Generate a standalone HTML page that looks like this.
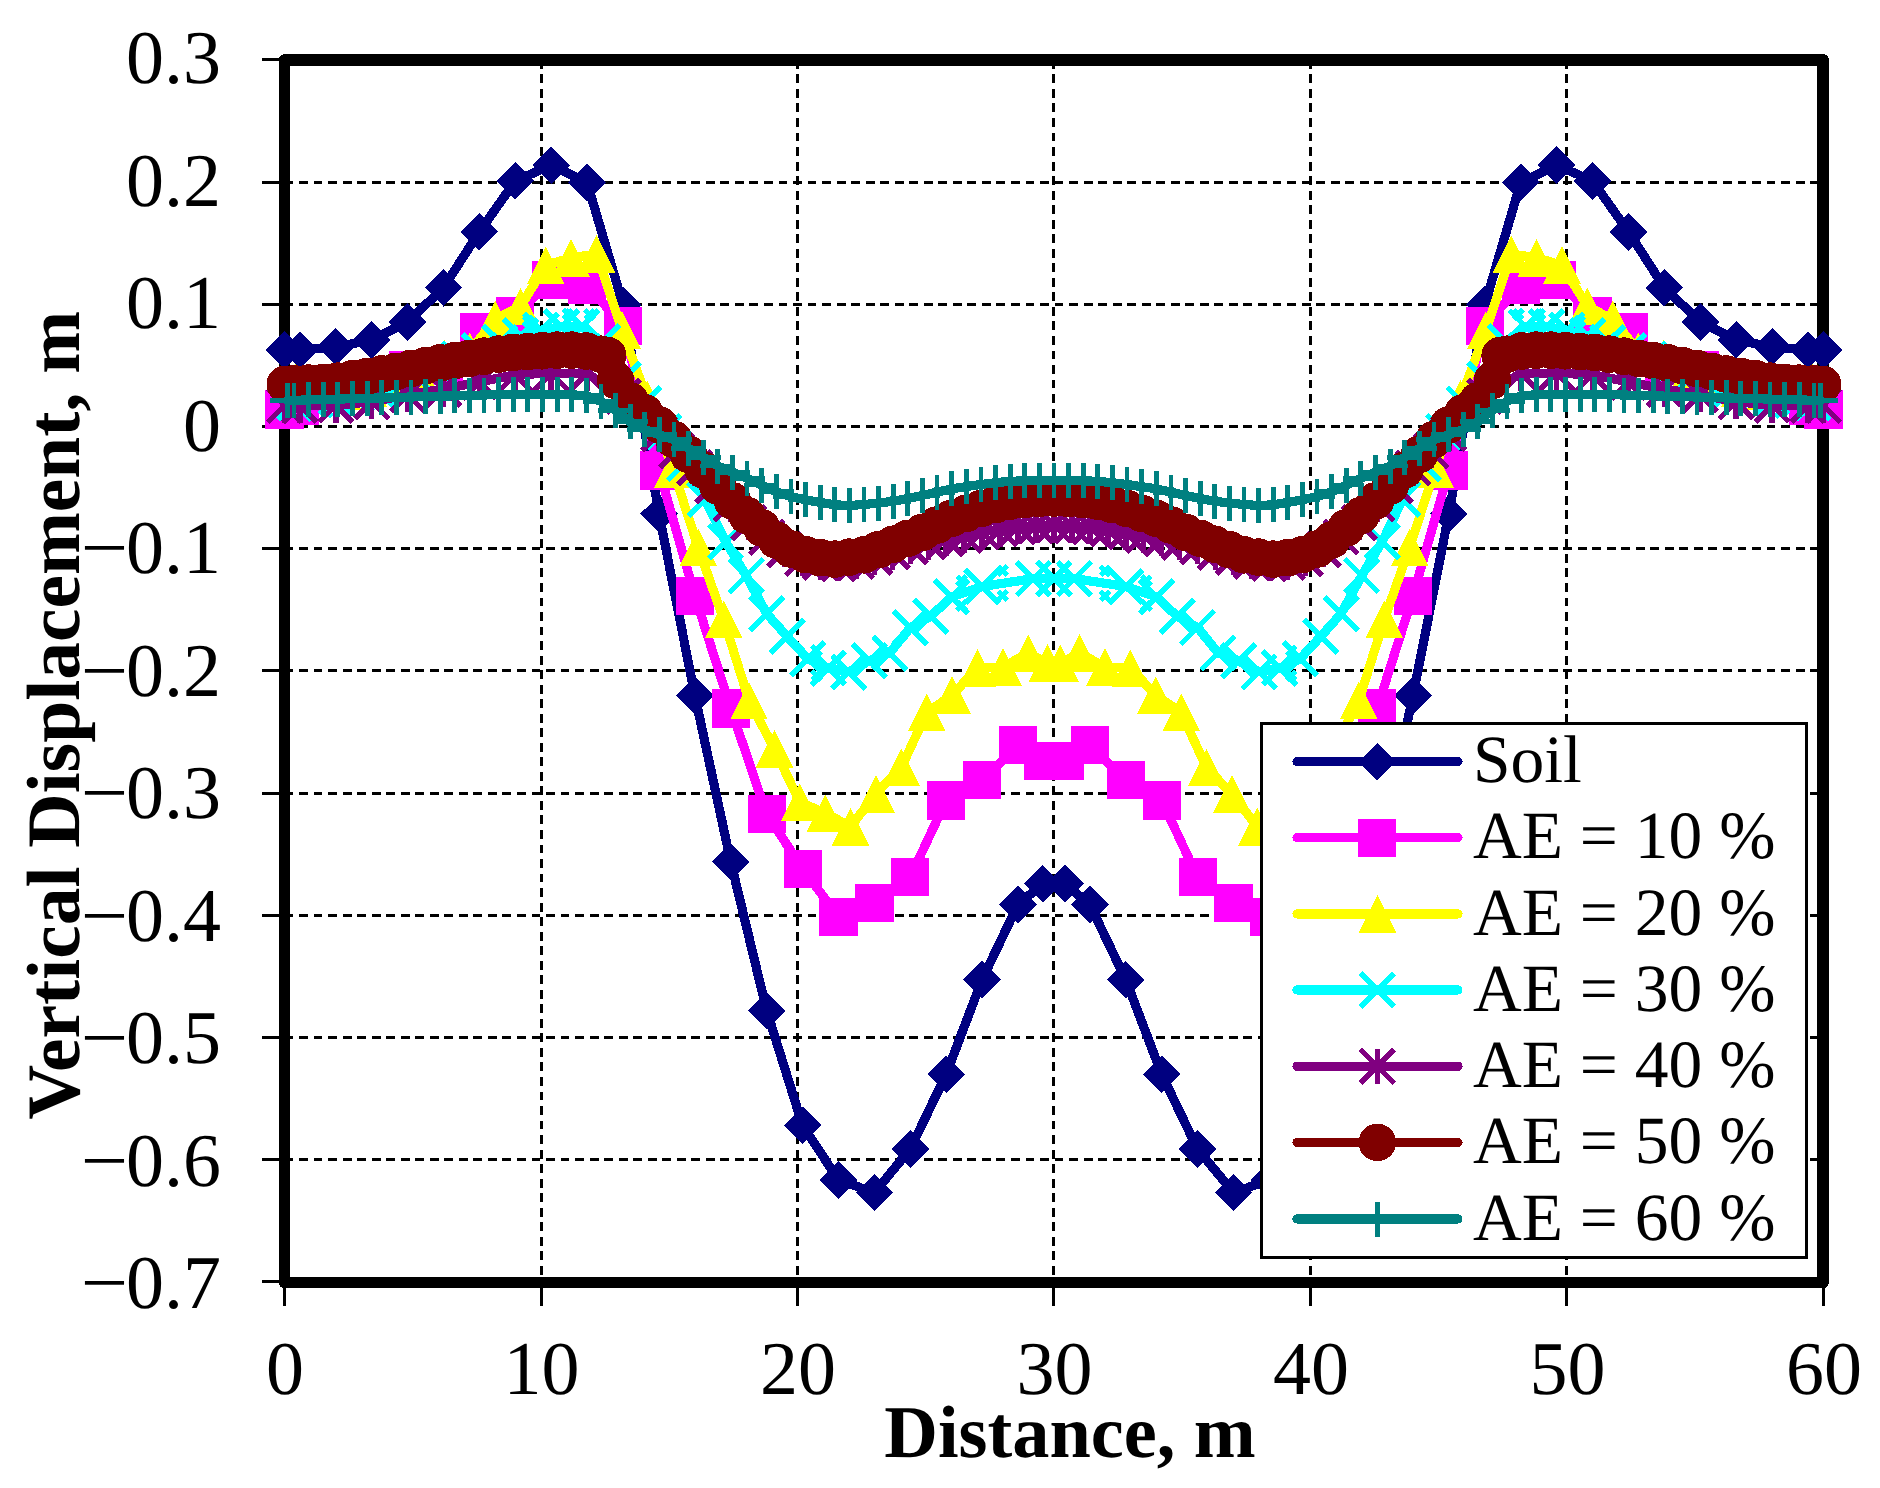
<!DOCTYPE html>
<html lang="en"><head><meta charset="utf-8"><title>Vertical Displacement vs Distance</title>
<style>html,body{margin:0;padding:0;background:#fff}svg{display:block}text{font-family:"Liberation Serif",serif;fill:#000}.t{font-size:76px}.b{font-weight:bold}.l{font-size:67.5px}</style></head><body>
<svg width="1880" height="1488" viewBox="0 0 1880 1488" shape-rendering="crispEdges" text-rendering="geometricPrecision">
<rect width="1880" height="1488" fill="#fff"/>
<path d="M541 59.9V1281.9M797.5 59.9V1281.9M1053.9 59.9V1281.9M1310.4 59.9V1281.9M1566.9 59.9V1281.9M284.5 182.1H1823.4M284.5 304.3H1823.4M284.5 426.5H1823.4M284.5 548.7H1823.4M284.5 670.9H1823.4M284.5 793.1H1823.4M284.5 915.3H1823.4M284.5 1037.5H1823.4M284.5 1159.7H1823.4" stroke="#000" stroke-width="3" stroke-dasharray="8.9 5.63" fill="none"/>
<path d="M284.5 1281.9V1306M541 1281.9V1306M797.5 1281.9V1306M1053.9 1281.9V1306M1310.4 1281.9V1306M1566.9 1281.9V1306M1823.4 1281.9V1306M262 59.9H284.5M262 182.1H284.5M262 304.3H284.5M262 426.5H284.5M262 548.7H284.5M262 670.9H284.5M262 793.1H284.5M262 915.3H284.5M262 1037.5H284.5M262 1159.7H284.5M262 1281.9H284.5" stroke="#000" stroke-width="3" fill="none"/>
<rect x="284.6" y="59.9" width="1538.5" height="1222.6" fill="none" stroke="#000" stroke-width="11.5" stroke-linejoin="round"/>
<g stroke-linejoin="round" stroke-linecap="round">
<g><path d="M284.5 350L299.9 350L335.8 346.9L371.7 340L407.6 322L443.5 287.7L479.4 231.8L515.3 180.9L551.2 165.2L587.1 182.5L623.1 305L659 513.8L694.9 695.7L730.8 862L766.7 1010.7L802.6 1125.4L838.5 1180L874.4 1192.6L910.3 1149.1L946.2 1074.3L982.1 979.7L1018 904.5L1042.9 883.8L1065 883.8L1089.8 904.5L1125.8 979.7L1161.7 1074.3L1197.6 1149.1L1233.5 1192.6L1269.4 1180L1305.3 1125.4L1341.2 1010.7L1377.1 862L1413 695.7L1448.9 513.8L1484.8 305L1520.7 182.5L1556.6 165.2L1592.5 180.9L1628.5 231.8L1664.4 287.7L1700.3 322L1736.2 340L1772.1 346.9L1808 350L1823.4 350" stroke="#000080" stroke-width="9.2" fill="none"/>
<g stroke-linecap="butt"><path d="M284.5 331.2L303.3 350L284.5 368.8L265.7 350Z" fill="#000080"/><path d="M299.9 331.2L318.7 350L299.9 368.8L281.1 350Z" fill="#000080"/><path d="M335.8 328.1L354.6 346.9L335.8 365.7L317 346.9Z" fill="#000080"/><path d="M371.7 321.2L390.5 340L371.7 358.8L352.9 340Z" fill="#000080"/><path d="M407.6 303.2L426.4 322L407.6 340.8L388.8 322Z" fill="#000080"/><path d="M443.5 268.9L462.3 287.7L443.5 306.5L424.7 287.7Z" fill="#000080"/><path d="M479.4 213L498.2 231.8L479.4 250.6L460.6 231.8Z" fill="#000080"/><path d="M515.3 162.1L534.1 180.9L515.3 199.7L496.5 180.9Z" fill="#000080"/><path d="M551.2 146.4L570 165.2L551.2 184L532.4 165.2Z" fill="#000080"/><path d="M587.1 163.7L605.9 182.5L587.1 201.3L568.3 182.5Z" fill="#000080"/><path d="M623.1 286.2L641.9 305L623.1 323.8L604.3 305Z" fill="#000080"/><path d="M659 495L677.8 513.8L659 532.6L640.2 513.8Z" fill="#000080"/><path d="M694.9 676.9L713.7 695.7L694.9 714.5L676.1 695.7Z" fill="#000080"/><path d="M730.8 843.2L749.6 862L730.8 880.8L712 862Z" fill="#000080"/><path d="M766.7 991.9L785.5 1010.7L766.7 1029.5L747.9 1010.7Z" fill="#000080"/><path d="M802.6 1106.6L821.4 1125.4L802.6 1144.2L783.8 1125.4Z" fill="#000080"/><path d="M838.5 1161.2L857.3 1180L838.5 1198.8L819.7 1180Z" fill="#000080"/><path d="M874.4 1173.8L893.2 1192.6L874.4 1211.4L855.6 1192.6Z" fill="#000080"/><path d="M910.3 1130.3L929.1 1149.1L910.3 1167.9L891.5 1149.1Z" fill="#000080"/><path d="M946.2 1055.5L965 1074.3L946.2 1093.1L927.4 1074.3Z" fill="#000080"/><path d="M982.1 960.9L1000.9 979.7L982.1 998.5L963.3 979.7Z" fill="#000080"/><path d="M1018 885.7L1036.8 904.5L1018 923.3L999.2 904.5Z" fill="#000080"/><path d="M1042.9 865L1061.7 883.8L1042.9 902.6L1024.1 883.8Z" fill="#000080"/><path d="M1065 865L1083.8 883.8L1065 902.6L1046.2 883.8Z" fill="#000080"/><path d="M1089.8 885.7L1108.6 904.5L1089.8 923.3L1071 904.5Z" fill="#000080"/><path d="M1125.8 960.9L1144.6 979.7L1125.8 998.5L1107 979.7Z" fill="#000080"/><path d="M1161.7 1055.5L1180.5 1074.3L1161.7 1093.1L1142.9 1074.3Z" fill="#000080"/><path d="M1197.6 1130.3L1216.4 1149.1L1197.6 1167.9L1178.8 1149.1Z" fill="#000080"/><path d="M1233.5 1173.8L1252.3 1192.6L1233.5 1211.4L1214.7 1192.6Z" fill="#000080"/><path d="M1269.4 1161.2L1288.2 1180L1269.4 1198.8L1250.6 1180Z" fill="#000080"/><path d="M1305.3 1106.6L1324.1 1125.4L1305.3 1144.2L1286.5 1125.4Z" fill="#000080"/><path d="M1341.2 991.9L1360 1010.7L1341.2 1029.5L1322.4 1010.7Z" fill="#000080"/><path d="M1377.1 843.2L1395.9 862L1377.1 880.8L1358.3 862Z" fill="#000080"/><path d="M1413 676.9L1431.8 695.7L1413 714.5L1394.2 695.7Z" fill="#000080"/><path d="M1448.9 495L1467.7 513.8L1448.9 532.6L1430.1 513.8Z" fill="#000080"/><path d="M1484.8 286.2L1503.6 305L1484.8 323.8L1466 305Z" fill="#000080"/><path d="M1520.7 163.7L1539.5 182.5L1520.7 201.3L1501.9 182.5Z" fill="#000080"/><path d="M1556.6 146.4L1575.4 165.2L1556.6 184L1537.8 165.2Z" fill="#000080"/><path d="M1592.5 162.1L1611.3 180.9L1592.5 199.7L1573.7 180.9Z" fill="#000080"/><path d="M1628.5 213L1647.3 231.8L1628.5 250.6L1609.7 231.8Z" fill="#000080"/><path d="M1664.4 268.9L1683.2 287.7L1664.4 306.5L1645.6 287.7Z" fill="#000080"/><path d="M1700.3 303.2L1719.1 322L1700.3 340.8L1681.5 322Z" fill="#000080"/><path d="M1736.2 321.2L1755 340L1736.2 358.8L1717.4 340Z" fill="#000080"/><path d="M1772.1 328.1L1790.9 346.9L1772.1 365.7L1753.3 346.9Z" fill="#000080"/><path d="M1808 331.2L1826.8 350L1808 368.8L1789.2 350Z" fill="#000080"/><path d="M1823.4 331.2L1842.2 350L1823.4 368.8L1804.6 350Z" fill="#000080"/></g></g>
<g><path d="M284.5 409.4L299.9 405.7L335.8 392.3L371.7 380.1L407.6 370.3L443.5 366L479.4 331.8L515.3 316L551.2 279.9L587.1 284.7L623.1 326.3L659 470.4L694.9 596L730.8 708.5L766.7 814.2L802.6 868.6L838.5 917L874.4 903.1L910.3 877.1L946.2 800.4L982.1 780.3L1018 745.2L1042.9 761L1065 761L1089.8 745.2L1125.8 780.3L1161.7 800.4L1197.6 877.1L1233.5 903.1L1269.4 917L1305.3 868.6L1341.2 814.2L1377.1 708.5L1413 596L1448.9 470.4L1484.8 326.3L1520.7 284.7L1556.6 279.9L1592.5 316L1628.5 331.8L1664.4 366L1700.3 370.3L1736.2 380.1L1772.1 392.3L1808 405.7L1823.4 409.4" stroke="#ff00ff" stroke-width="9.2" fill="none"/>
<g stroke-linecap="butt"><rect x="265.4" y="390.3" width="38.2" height="38.2" fill="#ff00ff"/><rect x="280.8" y="386.6" width="38.2" height="38.2" fill="#ff00ff"/><rect x="316.7" y="373.2" width="38.2" height="38.2" fill="#ff00ff"/><rect x="352.6" y="361" width="38.2" height="38.2" fill="#ff00ff"/><rect x="388.5" y="351.2" width="38.2" height="38.2" fill="#ff00ff"/><rect x="424.4" y="346.9" width="38.2" height="38.2" fill="#ff00ff"/><rect x="460.3" y="312.7" width="38.2" height="38.2" fill="#ff00ff"/><rect x="496.2" y="296.9" width="38.2" height="38.2" fill="#ff00ff"/><rect x="532.1" y="260.8" width="38.2" height="38.2" fill="#ff00ff"/><rect x="568" y="265.6" width="38.2" height="38.2" fill="#ff00ff"/><rect x="604" y="307.2" width="38.2" height="38.2" fill="#ff00ff"/><rect x="639.9" y="451.3" width="38.2" height="38.2" fill="#ff00ff"/><rect x="675.8" y="576.9" width="38.2" height="38.2" fill="#ff00ff"/><rect x="711.7" y="689.4" width="38.2" height="38.2" fill="#ff00ff"/><rect x="747.6" y="795.1" width="38.2" height="38.2" fill="#ff00ff"/><rect x="783.5" y="849.5" width="38.2" height="38.2" fill="#ff00ff"/><rect x="819.4" y="897.9" width="38.2" height="38.2" fill="#ff00ff"/><rect x="855.3" y="884" width="38.2" height="38.2" fill="#ff00ff"/><rect x="891.2" y="858" width="38.2" height="38.2" fill="#ff00ff"/><rect x="927.1" y="781.3" width="38.2" height="38.2" fill="#ff00ff"/><rect x="963" y="761.2" width="38.2" height="38.2" fill="#ff00ff"/><rect x="998.9" y="726.1" width="38.2" height="38.2" fill="#ff00ff"/><rect x="1023.8" y="741.9" width="38.2" height="38.2" fill="#ff00ff"/><rect x="1045.9" y="741.9" width="38.2" height="38.2" fill="#ff00ff"/><rect x="1070.7" y="726.1" width="38.2" height="38.2" fill="#ff00ff"/><rect x="1106.7" y="761.2" width="38.2" height="38.2" fill="#ff00ff"/><rect x="1142.6" y="781.3" width="38.2" height="38.2" fill="#ff00ff"/><rect x="1178.5" y="858" width="38.2" height="38.2" fill="#ff00ff"/><rect x="1214.4" y="884" width="38.2" height="38.2" fill="#ff00ff"/><rect x="1250.3" y="897.9" width="38.2" height="38.2" fill="#ff00ff"/><rect x="1286.2" y="849.5" width="38.2" height="38.2" fill="#ff00ff"/><rect x="1322.1" y="795.1" width="38.2" height="38.2" fill="#ff00ff"/><rect x="1358" y="689.4" width="38.2" height="38.2" fill="#ff00ff"/><rect x="1393.9" y="576.9" width="38.2" height="38.2" fill="#ff00ff"/><rect x="1429.8" y="451.3" width="38.2" height="38.2" fill="#ff00ff"/><rect x="1465.7" y="307.2" width="38.2" height="38.2" fill="#ff00ff"/><rect x="1501.6" y="265.6" width="38.2" height="38.2" fill="#ff00ff"/><rect x="1537.5" y="260.8" width="38.2" height="38.2" fill="#ff00ff"/><rect x="1573.4" y="296.9" width="38.2" height="38.2" fill="#ff00ff"/><rect x="1609.4" y="312.7" width="38.2" height="38.2" fill="#ff00ff"/><rect x="1645.3" y="346.9" width="38.2" height="38.2" fill="#ff00ff"/><rect x="1681.2" y="351.2" width="38.2" height="38.2" fill="#ff00ff"/><rect x="1717.1" y="361" width="38.2" height="38.2" fill="#ff00ff"/><rect x="1753" y="373.2" width="38.2" height="38.2" fill="#ff00ff"/><rect x="1788.9" y="386.6" width="38.2" height="38.2" fill="#ff00ff"/><rect x="1804.3" y="390.3" width="38.2" height="38.2" fill="#ff00ff"/></g></g>
<g><path d="M295.5 382.5L317.3 391.1L342.7 391.2L368.1 387.9L393.5 382.8L418.9 373.3L444.3 358.8L469.7 351.2L495.1 319.5L520.5 306.4L545.9 265.2L571.2 257.8L596.6 254L622 330.3L647.4 399.1L672.8 468.8L698.2 547.5L723.6 619.4L749 700.5L774.4 748.9L799.8 802.2L825.2 813L850.6 826.7L875.9 793.8L901.3 767.6L926.7 712.6L952.1 695L977.5 668.1L1002.9 666.9L1028.3 653.1L1047.5 663.2L1060.4 663.2L1079.6 653.1L1105 666.9L1130.4 668.1L1155.8 695L1181.2 712.6L1206.5 767.6L1231.9 793.8L1257.3 826.7L1282.7 813L1308.1 802.2L1333.5 748.9L1358.9 700.5L1384.3 619.4L1409.7 547.5L1435.1 468.8L1460.5 399.1L1485.9 330.3L1511.2 254L1536.6 257.8L1562 265.2L1587.4 306.4L1612.8 319.5L1638.2 351.2L1663.6 358.8L1689 373.3L1714.4 382.8L1739.8 387.9L1765.2 391.2L1790.6 391.1L1812.4 382.5" stroke="#ffff00" stroke-width="9.2" fill="none"/>
<g stroke-linecap="butt"><path d="M295.5 363.7L314.3 401.3L276.7 401.3Z" fill="#ffff00"/><path d="M317.3 372.3L336.1 409.9L298.5 409.9Z" fill="#ffff00"/><path d="M342.7 372.4L361.5 410L323.9 410Z" fill="#ffff00"/><path d="M368.1 369.1L386.9 406.7L349.3 406.7Z" fill="#ffff00"/><path d="M393.5 364L412.3 401.6L374.7 401.6Z" fill="#ffff00"/><path d="M418.9 354.5L437.7 392.1L400.1 392.1Z" fill="#ffff00"/><path d="M444.3 340L463.1 377.6L425.5 377.6Z" fill="#ffff00"/><path d="M469.7 332.4L488.5 370L450.9 370Z" fill="#ffff00"/><path d="M495.1 300.7L513.9 338.3L476.3 338.3Z" fill="#ffff00"/><path d="M520.5 287.6L539.3 325.2L501.7 325.2Z" fill="#ffff00"/><path d="M545.9 246.4L564.7 284L527.1 284Z" fill="#ffff00"/><path d="M571.2 239L590 276.6L552.4 276.6Z" fill="#ffff00"/><path d="M596.6 235.2L615.4 272.8L577.8 272.8Z" fill="#ffff00"/><path d="M622 311.5L640.8 349.1L603.2 349.1Z" fill="#ffff00"/><path d="M647.4 380.3L666.2 417.9L628.6 417.9Z" fill="#ffff00"/><path d="M672.8 450L691.6 487.6L654 487.6Z" fill="#ffff00"/><path d="M698.2 528.7L717 566.3L679.4 566.3Z" fill="#ffff00"/><path d="M723.6 600.6L742.4 638.2L704.8 638.2Z" fill="#ffff00"/><path d="M749 681.7L767.8 719.3L730.2 719.3Z" fill="#ffff00"/><path d="M774.4 730.1L793.2 767.7L755.6 767.7Z" fill="#ffff00"/><path d="M799.8 783.4L818.6 821L781 821Z" fill="#ffff00"/><path d="M825.2 794.2L844 831.8L806.4 831.8Z" fill="#ffff00"/><path d="M850.6 807.9L869.4 845.5L831.8 845.5Z" fill="#ffff00"/><path d="M875.9 775L894.7 812.6L857.1 812.6Z" fill="#ffff00"/><path d="M901.3 748.8L920.1 786.4L882.5 786.4Z" fill="#ffff00"/><path d="M926.7 693.8L945.5 731.4L907.9 731.4Z" fill="#ffff00"/><path d="M952.1 676.2L970.9 713.8L933.3 713.8Z" fill="#ffff00"/><path d="M977.5 649.3L996.3 686.9L958.7 686.9Z" fill="#ffff00"/><path d="M1002.9 648.1L1021.7 685.7L984.1 685.7Z" fill="#ffff00"/><path d="M1028.3 634.3L1047.1 671.9L1009.5 671.9Z" fill="#ffff00"/><path d="M1047.5 644.4L1066.3 682L1028.7 682Z" fill="#ffff00"/><path d="M1060.4 644.4L1079.2 682L1041.6 682Z" fill="#ffff00"/><path d="M1079.6 634.3L1098.4 671.9L1060.8 671.9Z" fill="#ffff00"/><path d="M1105 648.1L1123.8 685.7L1086.2 685.7Z" fill="#ffff00"/><path d="M1130.4 649.3L1149.2 686.9L1111.6 686.9Z" fill="#ffff00"/><path d="M1155.8 676.2L1174.6 713.8L1137 713.8Z" fill="#ffff00"/><path d="M1181.2 693.8L1200 731.4L1162.4 731.4Z" fill="#ffff00"/><path d="M1206.5 748.8L1225.3 786.4L1187.7 786.4Z" fill="#ffff00"/><path d="M1231.9 775L1250.7 812.6L1213.1 812.6Z" fill="#ffff00"/><path d="M1257.3 807.9L1276.1 845.5L1238.5 845.5Z" fill="#ffff00"/><path d="M1282.7 794.2L1301.5 831.8L1263.9 831.8Z" fill="#ffff00"/><path d="M1308.1 783.4L1326.9 821L1289.3 821Z" fill="#ffff00"/><path d="M1333.5 730.1L1352.3 767.7L1314.7 767.7Z" fill="#ffff00"/><path d="M1358.9 681.7L1377.7 719.3L1340.1 719.3Z" fill="#ffff00"/><path d="M1384.3 600.6L1403.1 638.2L1365.5 638.2Z" fill="#ffff00"/><path d="M1409.7 528.7L1428.5 566.3L1390.9 566.3Z" fill="#ffff00"/><path d="M1435.1 450L1453.9 487.6L1416.3 487.6Z" fill="#ffff00"/><path d="M1460.5 380.3L1479.3 417.9L1441.7 417.9Z" fill="#ffff00"/><path d="M1485.9 311.5L1504.7 349.1L1467.1 349.1Z" fill="#ffff00"/><path d="M1511.2 235.2L1530 272.8L1492.4 272.8Z" fill="#ffff00"/><path d="M1536.6 239L1555.4 276.6L1517.8 276.6Z" fill="#ffff00"/><path d="M1562 246.4L1580.8 284L1543.2 284Z" fill="#ffff00"/><path d="M1587.4 287.6L1606.2 325.2L1568.6 325.2Z" fill="#ffff00"/><path d="M1612.8 300.7L1631.6 338.3L1594 338.3Z" fill="#ffff00"/><path d="M1638.2 332.4L1657 370L1619.4 370Z" fill="#ffff00"/><path d="M1663.6 340L1682.4 377.6L1644.8 377.6Z" fill="#ffff00"/><path d="M1689 354.5L1707.8 392.1L1670.2 392.1Z" fill="#ffff00"/><path d="M1714.4 364L1733.2 401.6L1695.6 401.6Z" fill="#ffff00"/><path d="M1739.8 369.1L1758.6 406.7L1721 406.7Z" fill="#ffff00"/><path d="M1765.2 372.4L1784 410L1746.4 410Z" fill="#ffff00"/><path d="M1790.6 372.3L1809.4 409.9L1771.8 409.9Z" fill="#ffff00"/><path d="M1812.4 363.7L1831.2 401.3L1793.6 401.3Z" fill="#ffff00"/></g></g>
<g><path d="M294.8 403L315.3 400.1L335.8 397.2L356.3 394.2L376.8 389.5L397.4 384.1L417.9 377.8L438.4 368.7L458.9 359.6L479.4 351L499.9 342.7L520.5 335.8L541 330.2L561.5 326.8L582 326.8L602.5 342L623.1 379.1L643.6 404.2L664.1 431.8L684.6 463.5L705.1 499.3L725.6 541.6L746.2 575.7L766.7 613.6L787.2 636.5L807.7 658.7L828.2 668L848.8 671.9L869.3 660.8L889.8 652.9L910.3 627.5L930.8 616.3L951.3 596.9L982.1 586.5L1033.4 578.6L1053.9 578.6L1074.5 578.6L1125.8 586.5L1156.5 596.9L1177.1 616.3L1197.6 627.5L1218.1 652.9L1238.6 660.8L1259.1 671.9L1279.6 668L1300.2 658.7L1320.7 636.5L1341.2 613.6L1361.7 575.7L1382.2 541.6L1402.8 499.3L1423.3 463.5L1443.8 431.8L1464.3 404.2L1484.8 379.1L1505.3 342L1525.9 326.8L1546.4 326.8L1566.9 330.2L1587.4 335.8L1607.9 342.7L1628.5 351L1649 359.6L1669.5 368.7L1690 377.8L1710.5 384.1L1731 389.5L1751.6 394.2L1772.1 397.2L1792.6 400.1L1813.1 403" stroke="#00ffff" stroke-width="9.2" fill="none"/>
<g stroke-linecap="butt"><path d="M278 386.2L311.6 419.8M278 419.8L311.6 386.2" stroke="#00ffff" stroke-width="5.5" fill="none"/><path d="M298.5 383.3L332.1 416.9M298.5 416.9L332.1 383.3" stroke="#00ffff" stroke-width="5.5" fill="none"/><path d="M319 380.4L352.6 414M319 414L352.6 380.4" stroke="#00ffff" stroke-width="5.5" fill="none"/><path d="M339.5 377.4L373.1 411M339.5 411L373.1 377.4" stroke="#00ffff" stroke-width="5.5" fill="none"/><path d="M360 372.7L393.6 406.3M360 406.3L393.6 372.7" stroke="#00ffff" stroke-width="5.5" fill="none"/><path d="M380.6 367.3L414.2 400.9M380.6 400.9L414.2 367.3" stroke="#00ffff" stroke-width="5.5" fill="none"/><path d="M401.1 361L434.7 394.6M401.1 394.6L434.7 361" stroke="#00ffff" stroke-width="5.5" fill="none"/><path d="M421.6 351.9L455.2 385.5M421.6 385.5L455.2 351.9" stroke="#00ffff" stroke-width="5.5" fill="none"/><path d="M442.1 342.8L475.7 376.4M442.1 376.4L475.7 342.8" stroke="#00ffff" stroke-width="5.5" fill="none"/><path d="M462.6 334.2L496.2 367.8M462.6 367.8L496.2 334.2" stroke="#00ffff" stroke-width="5.5" fill="none"/><path d="M483.1 325.9L516.7 359.5M483.1 359.5L516.7 325.9" stroke="#00ffff" stroke-width="5.5" fill="none"/><path d="M503.7 319L537.3 352.6M503.7 352.6L537.3 319" stroke="#00ffff" stroke-width="5.5" fill="none"/><path d="M524.2 313.4L557.8 347M524.2 347L557.8 313.4" stroke="#00ffff" stroke-width="5.5" fill="none"/><path d="M544.7 310L578.3 343.6M544.7 343.6L578.3 310" stroke="#00ffff" stroke-width="5.5" fill="none"/><path d="M565.2 310L598.8 343.6M565.2 343.6L598.8 310" stroke="#00ffff" stroke-width="5.5" fill="none"/><path d="M585.7 325.2L619.3 358.8M585.7 358.8L619.3 325.2" stroke="#00ffff" stroke-width="5.5" fill="none"/><path d="M606.3 362.3L639.9 395.9M606.3 395.9L639.9 362.3" stroke="#00ffff" stroke-width="5.5" fill="none"/><path d="M626.8 387.4L660.4 421M626.8 421L660.4 387.4" stroke="#00ffff" stroke-width="5.5" fill="none"/><path d="M647.3 415L680.9 448.6M647.3 448.6L680.9 415" stroke="#00ffff" stroke-width="5.5" fill="none"/><path d="M667.8 446.7L701.4 480.3M667.8 480.3L701.4 446.7" stroke="#00ffff" stroke-width="5.5" fill="none"/><path d="M688.3 482.5L721.9 516.1M688.3 516.1L721.9 482.5" stroke="#00ffff" stroke-width="5.5" fill="none"/><path d="M708.8 524.8L742.4 558.4M708.8 558.4L742.4 524.8" stroke="#00ffff" stroke-width="5.5" fill="none"/><path d="M729.4 558.9L763 592.5M729.4 592.5L763 558.9" stroke="#00ffff" stroke-width="5.5" fill="none"/><path d="M749.9 596.8L783.5 630.4M749.9 630.4L783.5 596.8" stroke="#00ffff" stroke-width="5.5" fill="none"/><path d="M770.4 619.7L804 653.3M770.4 653.3L804 619.7" stroke="#00ffff" stroke-width="5.5" fill="none"/><path d="M790.9 641.9L824.5 675.5M790.9 675.5L824.5 641.9" stroke="#00ffff" stroke-width="5.5" fill="none"/><path d="M811.4 651.2L845 684.8M811.4 684.8L845 651.2" stroke="#00ffff" stroke-width="5.5" fill="none"/><path d="M832 655.1L865.6 688.7M832 688.7L865.6 655.1" stroke="#00ffff" stroke-width="5.5" fill="none"/><path d="M852.5 644L886.1 677.6M852.5 677.6L886.1 644" stroke="#00ffff" stroke-width="5.5" fill="none"/><path d="M873 636.1L906.6 669.7M873 669.7L906.6 636.1" stroke="#00ffff" stroke-width="5.5" fill="none"/><path d="M893.5 610.7L927.1 644.3M893.5 644.3L927.1 610.7" stroke="#00ffff" stroke-width="5.5" fill="none"/><path d="M914 599.5L947.6 633.1M914 633.1L947.6 599.5" stroke="#00ffff" stroke-width="5.5" fill="none"/><path d="M934.5 580.1L968.1 613.7M934.5 613.7L968.1 580.1" stroke="#00ffff" stroke-width="5.5" fill="none"/><path d="M965.3 569.7L998.9 603.3M965.3 603.3L998.9 569.7" stroke="#00ffff" stroke-width="5.5" fill="none"/><path d="M1016.6 561.8L1050.2 595.4M1016.6 595.4L1050.2 561.8" stroke="#00ffff" stroke-width="5.5" fill="none"/><path d="M1037.1 561.8L1070.7 595.4M1037.1 595.4L1070.7 561.8" stroke="#00ffff" stroke-width="5.5" fill="none"/><path d="M1057.7 561.8L1091.3 595.4M1057.7 595.4L1091.3 561.8" stroke="#00ffff" stroke-width="5.5" fill="none"/><path d="M1109 569.7L1142.6 603.3M1109 603.3L1142.6 569.7" stroke="#00ffff" stroke-width="5.5" fill="none"/><path d="M1139.7 580.1L1173.3 613.7M1139.7 613.7L1173.3 580.1" stroke="#00ffff" stroke-width="5.5" fill="none"/><path d="M1160.3 599.5L1193.9 633.1M1160.3 633.1L1193.9 599.5" stroke="#00ffff" stroke-width="5.5" fill="none"/><path d="M1180.8 610.7L1214.4 644.3M1180.8 644.3L1214.4 610.7" stroke="#00ffff" stroke-width="5.5" fill="none"/><path d="M1201.3 636.1L1234.9 669.7M1201.3 669.7L1234.9 636.1" stroke="#00ffff" stroke-width="5.5" fill="none"/><path d="M1221.8 644L1255.4 677.6M1221.8 677.6L1255.4 644" stroke="#00ffff" stroke-width="5.5" fill="none"/><path d="M1242.3 655.1L1275.9 688.7M1242.3 688.7L1275.9 655.1" stroke="#00ffff" stroke-width="5.5" fill="none"/><path d="M1262.8 651.2L1296.4 684.8M1262.8 684.8L1296.4 651.2" stroke="#00ffff" stroke-width="5.5" fill="none"/><path d="M1283.4 641.9L1317 675.5M1283.4 675.5L1317 641.9" stroke="#00ffff" stroke-width="5.5" fill="none"/><path d="M1303.9 619.7L1337.5 653.3M1303.9 653.3L1337.5 619.7" stroke="#00ffff" stroke-width="5.5" fill="none"/><path d="M1324.4 596.8L1358 630.4M1324.4 630.4L1358 596.8" stroke="#00ffff" stroke-width="5.5" fill="none"/><path d="M1344.9 558.9L1378.5 592.5M1344.9 592.5L1378.5 558.9" stroke="#00ffff" stroke-width="5.5" fill="none"/><path d="M1365.4 524.8L1399 558.4M1365.4 558.4L1399 524.8" stroke="#00ffff" stroke-width="5.5" fill="none"/><path d="M1386 482.5L1419.6 516.1M1386 516.1L1419.6 482.5" stroke="#00ffff" stroke-width="5.5" fill="none"/><path d="M1406.5 446.7L1440.1 480.3M1406.5 480.3L1440.1 446.7" stroke="#00ffff" stroke-width="5.5" fill="none"/><path d="M1427 415L1460.6 448.6M1427 448.6L1460.6 415" stroke="#00ffff" stroke-width="5.5" fill="none"/><path d="M1447.5 387.4L1481.1 421M1447.5 421L1481.1 387.4" stroke="#00ffff" stroke-width="5.5" fill="none"/><path d="M1468 362.3L1501.6 395.9M1468 395.9L1501.6 362.3" stroke="#00ffff" stroke-width="5.5" fill="none"/><path d="M1488.5 325.2L1522.1 358.8M1488.5 358.8L1522.1 325.2" stroke="#00ffff" stroke-width="5.5" fill="none"/><path d="M1509.1 310L1542.7 343.6M1509.1 343.6L1542.7 310" stroke="#00ffff" stroke-width="5.5" fill="none"/><path d="M1529.6 310L1563.2 343.6M1529.6 343.6L1563.2 310" stroke="#00ffff" stroke-width="5.5" fill="none"/><path d="M1550.1 313.4L1583.7 347M1550.1 347L1583.7 313.4" stroke="#00ffff" stroke-width="5.5" fill="none"/><path d="M1570.6 319L1604.2 352.6M1570.6 352.6L1604.2 319" stroke="#00ffff" stroke-width="5.5" fill="none"/><path d="M1591.1 325.9L1624.7 359.5M1591.1 359.5L1624.7 325.9" stroke="#00ffff" stroke-width="5.5" fill="none"/><path d="M1611.7 334.2L1645.3 367.8M1611.7 367.8L1645.3 334.2" stroke="#00ffff" stroke-width="5.5" fill="none"/><path d="M1632.2 342.8L1665.8 376.4M1632.2 376.4L1665.8 342.8" stroke="#00ffff" stroke-width="5.5" fill="none"/><path d="M1652.7 351.9L1686.3 385.5M1652.7 385.5L1686.3 351.9" stroke="#00ffff" stroke-width="5.5" fill="none"/><path d="M1673.2 361L1706.8 394.6M1673.2 394.6L1706.8 361" stroke="#00ffff" stroke-width="5.5" fill="none"/><path d="M1693.7 367.3L1727.3 400.9M1693.7 400.9L1727.3 367.3" stroke="#00ffff" stroke-width="5.5" fill="none"/><path d="M1714.2 372.7L1747.8 406.3M1714.2 406.3L1747.8 372.7" stroke="#00ffff" stroke-width="5.5" fill="none"/><path d="M1734.8 377.4L1768.4 411M1734.8 411L1768.4 377.4" stroke="#00ffff" stroke-width="5.5" fill="none"/><path d="M1755.3 380.4L1788.9 414M1755.3 414L1788.9 380.4" stroke="#00ffff" stroke-width="5.5" fill="none"/><path d="M1775.8 383.3L1809.4 416.9M1775.8 416.9L1809.4 383.3" stroke="#00ffff" stroke-width="5.5" fill="none"/><path d="M1796.3 386.2L1829.9 419.8M1796.3 419.8L1829.9 386.2" stroke="#00ffff" stroke-width="5.5" fill="none"/><path d="M523.6 316.6L532.8 325.8M523.6 325.8L532.8 316.6M523.6 341.6L532.8 350.8M523.6 350.8L532.8 341.6" stroke="#00ffff" stroke-width="5" fill="none"/><path d="M563.3 309.7L572.5 318.9M563.3 318.9L572.5 309.7M563.3 334.7L572.5 343.9M563.3 343.9L572.5 334.7" stroke="#00ffff" stroke-width="5" fill="none"/><path d="M585.1 309.7L594.3 318.9M585.1 318.9L594.3 309.7M585.1 334.7L594.3 343.9M585.1 343.9L594.3 334.7" stroke="#00ffff" stroke-width="5" fill="none"/><path d="M812.1 645.9L821.3 655.1M812.1 655.1L821.3 645.9M812.1 670.9L821.3 680.1M812.1 680.1L821.3 670.9" stroke="#00ffff" stroke-width="5" fill="none"/><path d="M957 576.1L966.2 585.3M957 585.3L966.2 576.1M957 601.1L966.2 610.3M957 610.3L966.2 601.1" stroke="#00ffff" stroke-width="5" fill="none"/><path d="M998 566.2L1007.2 575.4M998 575.4L1007.2 566.2M998 591.2L1007.2 600.4M998 600.4L1007.2 591.2" stroke="#00ffff" stroke-width="5" fill="none"/><path d="M1575.1 316.6L1584.3 325.8M1575.1 325.8L1584.3 316.6M1575.1 341.6L1584.3 350.8M1575.1 350.8L1584.3 341.6" stroke="#00ffff" stroke-width="5" fill="none"/><path d="M1535.4 309.7L1544.6 318.9M1535.4 318.9L1544.6 309.7M1535.4 334.7L1544.6 343.9M1535.4 343.9L1544.6 334.7" stroke="#00ffff" stroke-width="5" fill="none"/><path d="M1513.6 309.7L1522.8 318.9M1513.6 318.9L1522.8 309.7M1513.6 334.7L1522.8 343.9M1513.6 343.9L1522.8 334.7" stroke="#00ffff" stroke-width="5" fill="none"/><path d="M1286.6 645.9L1295.8 655.1M1286.6 655.1L1295.8 645.9M1286.6 670.9L1295.8 680.1M1286.6 680.1L1295.8 670.9" stroke="#00ffff" stroke-width="5" fill="none"/><path d="M1141.7 576.1L1150.9 585.3M1141.7 585.3L1150.9 576.1M1141.7 601.1L1150.9 610.3M1141.7 610.3L1150.9 601.1" stroke="#00ffff" stroke-width="5" fill="none"/><path d="M1100.6 566.2L1109.8 575.4M1100.6 575.4L1109.8 566.2M1100.6 591.2L1109.8 600.4M1100.6 600.4L1109.8 591.2" stroke="#00ffff" stroke-width="5" fill="none"/></g></g>
<g><path d="M284.5 405.5L299.9 405.4L335.8 405.2L371.7 401.8L407.6 394.6L443.5 389L479.4 382L515.3 374.6L551.2 373.3L587.1 373.3L623.1 396.4L659 433.5L676.9 450.9L694.9 468L712.8 485.6L730.8 504.2L748.7 522.6L766.7 537.2L784.6 549.8L802.6 558.4L820.5 562.3L838.5 563.7L856.5 561.5L874.4 557.2L892.4 552L910.3 546.9L928.3 542.1L946.2 538.7L964.2 535.3L982.1 532L1000.1 529.1L1018 526.6L1036 525.8L1053.9 525L1071.9 525.8L1089.8 526.6L1107.8 529.1L1125.8 532L1143.7 535.3L1161.7 538.7L1179.6 542.1L1197.6 546.9L1215.5 552L1233.5 557.2L1251.4 561.5L1269.4 563.7L1287.3 562.3L1305.3 558.4L1323.2 549.8L1341.2 537.2L1359.2 522.6L1377.1 504.2L1395.1 485.6L1413 468L1431 450.9L1448.9 433.5L1484.8 396.4L1520.7 373.3L1556.6 373.3L1592.5 374.6L1628.5 382L1664.4 389L1700.3 394.6L1736.2 401.8L1772.1 405.2L1808 405.4L1823.4 405.5" stroke="#800080" stroke-width="9.2" fill="none"/>
<g stroke-linecap="butt"><path d="M267.7 388.7L301.3 422.3M267.7 422.3L301.3 388.7M284.5 388L284.5 423" stroke="#800080" stroke-width="5.5" fill="none"/><path d="M283.1 388.6L316.7 422.2M283.1 422.2L316.7 388.6M299.9 387.9L299.9 422.9" stroke="#800080" stroke-width="5.5" fill="none"/><path d="M319 388.4L352.6 422M319 422L352.6 388.4M335.8 387.7L335.8 422.7" stroke="#800080" stroke-width="5.5" fill="none"/><path d="M354.9 385L388.5 418.6M354.9 418.6L388.5 385M371.7 384.3L371.7 419.3" stroke="#800080" stroke-width="5.5" fill="none"/><path d="M390.8 377.8L424.4 411.4M390.8 411.4L424.4 377.8M407.6 377.1L407.6 412.1" stroke="#800080" stroke-width="5.5" fill="none"/><path d="M426.7 372.2L460.3 405.8M426.7 405.8L460.3 372.2M443.5 371.5L443.5 406.5" stroke="#800080" stroke-width="5.5" fill="none"/><path d="M462.6 365.2L496.2 398.8M462.6 398.8L496.2 365.2M479.4 364.5L479.4 399.5" stroke="#800080" stroke-width="5.5" fill="none"/><path d="M498.5 357.8L532.1 391.4M498.5 391.4L532.1 357.8M515.3 357.1L515.3 392.1" stroke="#800080" stroke-width="5.5" fill="none"/><path d="M534.4 356.5L568 390.1M534.4 390.1L568 356.5M551.2 355.8L551.2 390.8" stroke="#800080" stroke-width="5.5" fill="none"/><path d="M570.3 356.5L603.9 390.1M570.3 390.1L603.9 356.5M587.1 355.8L587.1 390.8" stroke="#800080" stroke-width="5.5" fill="none"/><path d="M606.3 379.6L639.9 413.2M606.3 413.2L639.9 379.6M623.1 378.9L623.1 413.9" stroke="#800080" stroke-width="5.5" fill="none"/><path d="M642.2 416.7L675.8 450.3M642.2 450.3L675.8 416.7M659 416L659 451" stroke="#800080" stroke-width="5.5" fill="none"/><path d="M660.1 434.1L693.7 467.7M660.1 467.7L693.7 434.1M676.9 433.4L676.9 468.4" stroke="#800080" stroke-width="5.5" fill="none"/><path d="M678.1 451.2L711.7 484.8M678.1 484.8L711.7 451.2M694.9 450.5L694.9 485.5" stroke="#800080" stroke-width="5.5" fill="none"/><path d="M696 468.8L729.6 502.4M696 502.4L729.6 468.8M712.8 468.1L712.8 503.1" stroke="#800080" stroke-width="5.5" fill="none"/><path d="M714 487.4L747.6 521M714 521L747.6 487.4M730.8 486.7L730.8 521.7" stroke="#800080" stroke-width="5.5" fill="none"/><path d="M731.9 505.8L765.5 539.4M731.9 539.4L765.5 505.8M748.7 505.1L748.7 540.1" stroke="#800080" stroke-width="5.5" fill="none"/><path d="M749.9 520.4L783.5 554M749.9 554L783.5 520.4M766.7 519.7L766.7 554.7" stroke="#800080" stroke-width="5.5" fill="none"/><path d="M767.8 533L801.4 566.6M767.8 566.6L801.4 533M784.6 532.3L784.6 567.3" stroke="#800080" stroke-width="5.5" fill="none"/><path d="M785.8 541.6L819.4 575.2M785.8 575.2L819.4 541.6M802.6 540.9L802.6 575.9" stroke="#800080" stroke-width="5.5" fill="none"/><path d="M803.7 545.5L837.3 579.1M803.7 579.1L837.3 545.5M820.5 544.8L820.5 579.8" stroke="#800080" stroke-width="5.5" fill="none"/><path d="M821.7 546.9L855.3 580.5M821.7 580.5L855.3 546.9M838.5 546.2L838.5 581.2" stroke="#800080" stroke-width="5.5" fill="none"/><path d="M839.7 544.7L873.3 578.3M839.7 578.3L873.3 544.7M856.5 544L856.5 579" stroke="#800080" stroke-width="5.5" fill="none"/><path d="M857.6 540.4L891.2 574M857.6 574L891.2 540.4M874.4 539.7L874.4 574.7" stroke="#800080" stroke-width="5.5" fill="none"/><path d="M875.6 535.2L909.2 568.8M875.6 568.8L909.2 535.2M892.4 534.5L892.4 569.5" stroke="#800080" stroke-width="5.5" fill="none"/><path d="M893.5 530.1L927.1 563.7M893.5 563.7L927.1 530.1M910.3 529.4L910.3 564.4" stroke="#800080" stroke-width="5.5" fill="none"/><path d="M911.5 525.3L945.1 558.9M911.5 558.9L945.1 525.3M928.3 524.6L928.3 559.6" stroke="#800080" stroke-width="5.5" fill="none"/><path d="M929.4 521.9L963 555.5M929.4 555.5L963 521.9M946.2 521.2L946.2 556.2" stroke="#800080" stroke-width="5.5" fill="none"/><path d="M947.4 518.5L981 552.1M947.4 552.1L981 518.5M964.2 517.8L964.2 552.8" stroke="#800080" stroke-width="5.5" fill="none"/><path d="M965.3 515.2L998.9 548.8M965.3 548.8L998.9 515.2M982.1 514.5L982.1 549.5" stroke="#800080" stroke-width="5.5" fill="none"/><path d="M983.3 512.3L1016.9 545.9M983.3 545.9L1016.9 512.3M1000.1 511.6L1000.1 546.6" stroke="#800080" stroke-width="5.5" fill="none"/><path d="M1001.2 509.8L1034.8 543.4M1001.2 543.4L1034.8 509.8M1018 509.1L1018 544.1" stroke="#800080" stroke-width="5.5" fill="none"/><path d="M1019.2 509L1052.8 542.6M1019.2 542.6L1052.8 509M1036 508.3L1036 543.3" stroke="#800080" stroke-width="5.5" fill="none"/><path d="M1037.1 508.2L1070.7 541.8M1037.1 541.8L1070.7 508.2M1053.9 507.5L1053.9 542.5" stroke="#800080" stroke-width="5.5" fill="none"/><path d="M1055.1 509L1088.7 542.6M1055.1 542.6L1088.7 509M1071.9 508.3L1071.9 543.3" stroke="#800080" stroke-width="5.5" fill="none"/><path d="M1073 509.8L1106.6 543.4M1073 543.4L1106.6 509.8M1089.8 509.1L1089.8 544.1" stroke="#800080" stroke-width="5.5" fill="none"/><path d="M1091 512.3L1124.6 545.9M1091 545.9L1124.6 512.3M1107.8 511.6L1107.8 546.6" stroke="#800080" stroke-width="5.5" fill="none"/><path d="M1109 515.2L1142.6 548.8M1109 548.8L1142.6 515.2M1125.8 514.5L1125.8 549.5" stroke="#800080" stroke-width="5.5" fill="none"/><path d="M1126.9 518.5L1160.5 552.1M1126.9 552.1L1160.5 518.5M1143.7 517.8L1143.7 552.8" stroke="#800080" stroke-width="5.5" fill="none"/><path d="M1144.9 521.9L1178.5 555.5M1144.9 555.5L1178.5 521.9M1161.7 521.2L1161.7 556.2" stroke="#800080" stroke-width="5.5" fill="none"/><path d="M1162.8 525.3L1196.4 558.9M1162.8 558.9L1196.4 525.3M1179.6 524.6L1179.6 559.6" stroke="#800080" stroke-width="5.5" fill="none"/><path d="M1180.8 530.1L1214.4 563.7M1180.8 563.7L1214.4 530.1M1197.6 529.4L1197.6 564.4" stroke="#800080" stroke-width="5.5" fill="none"/><path d="M1198.7 535.2L1232.3 568.8M1198.7 568.8L1232.3 535.2M1215.5 534.5L1215.5 569.5" stroke="#800080" stroke-width="5.5" fill="none"/><path d="M1216.7 540.4L1250.3 574M1216.7 574L1250.3 540.4M1233.5 539.7L1233.5 574.7" stroke="#800080" stroke-width="5.5" fill="none"/><path d="M1234.6 544.7L1268.2 578.3M1234.6 578.3L1268.2 544.7M1251.4 544L1251.4 579" stroke="#800080" stroke-width="5.5" fill="none"/><path d="M1252.6 546.9L1286.2 580.5M1252.6 580.5L1286.2 546.9M1269.4 546.2L1269.4 581.2" stroke="#800080" stroke-width="5.5" fill="none"/><path d="M1270.5 545.5L1304.1 579.1M1270.5 579.1L1304.1 545.5M1287.3 544.8L1287.3 579.8" stroke="#800080" stroke-width="5.5" fill="none"/><path d="M1288.5 541.6L1322.1 575.2M1288.5 575.2L1322.1 541.6M1305.3 540.9L1305.3 575.9" stroke="#800080" stroke-width="5.5" fill="none"/><path d="M1306.4 533L1340 566.6M1306.4 566.6L1340 533M1323.2 532.3L1323.2 567.3" stroke="#800080" stroke-width="5.5" fill="none"/><path d="M1324.4 520.4L1358 554M1324.4 554L1358 520.4M1341.2 519.7L1341.2 554.7" stroke="#800080" stroke-width="5.5" fill="none"/><path d="M1342.4 505.8L1376 539.4M1342.4 539.4L1376 505.8M1359.2 505.1L1359.2 540.1" stroke="#800080" stroke-width="5.5" fill="none"/><path d="M1360.3 487.4L1393.9 521M1360.3 521L1393.9 487.4M1377.1 486.7L1377.1 521.7" stroke="#800080" stroke-width="5.5" fill="none"/><path d="M1378.3 468.8L1411.9 502.4M1378.3 502.4L1411.9 468.8M1395.1 468.1L1395.1 503.1" stroke="#800080" stroke-width="5.5" fill="none"/><path d="M1396.2 451.2L1429.8 484.8M1396.2 484.8L1429.8 451.2M1413 450.5L1413 485.5" stroke="#800080" stroke-width="5.5" fill="none"/><path d="M1414.2 434.1L1447.8 467.7M1414.2 467.7L1447.8 434.1M1431 433.4L1431 468.4" stroke="#800080" stroke-width="5.5" fill="none"/><path d="M1432.1 416.7L1465.7 450.3M1432.1 450.3L1465.7 416.7M1448.9 416L1448.9 451" stroke="#800080" stroke-width="5.5" fill="none"/><path d="M1468 379.6L1501.6 413.2M1468 413.2L1501.6 379.6M1484.8 378.9L1484.8 413.9" stroke="#800080" stroke-width="5.5" fill="none"/><path d="M1503.9 356.5L1537.5 390.1M1503.9 390.1L1537.5 356.5M1520.7 355.8L1520.7 390.8" stroke="#800080" stroke-width="5.5" fill="none"/><path d="M1539.8 356.5L1573.4 390.1M1539.8 390.1L1573.4 356.5M1556.6 355.8L1556.6 390.8" stroke="#800080" stroke-width="5.5" fill="none"/><path d="M1575.7 357.8L1609.3 391.4M1575.7 391.4L1609.3 357.8M1592.5 357.1L1592.5 392.1" stroke="#800080" stroke-width="5.5" fill="none"/><path d="M1611.7 365.2L1645.3 398.8M1611.7 398.8L1645.3 365.2M1628.5 364.5L1628.5 399.5" stroke="#800080" stroke-width="5.5" fill="none"/><path d="M1647.6 372.2L1681.2 405.8M1647.6 405.8L1681.2 372.2M1664.4 371.5L1664.4 406.5" stroke="#800080" stroke-width="5.5" fill="none"/><path d="M1683.5 377.8L1717.1 411.4M1683.5 411.4L1717.1 377.8M1700.3 377.1L1700.3 412.1" stroke="#800080" stroke-width="5.5" fill="none"/><path d="M1719.4 385L1753 418.6M1719.4 418.6L1753 385M1736.2 384.3L1736.2 419.3" stroke="#800080" stroke-width="5.5" fill="none"/><path d="M1755.3 388.4L1788.9 422M1755.3 422L1788.9 388.4M1772.1 387.7L1772.1 422.7" stroke="#800080" stroke-width="5.5" fill="none"/><path d="M1791.2 388.6L1824.8 422.2M1791.2 422.2L1824.8 388.6M1808 387.9L1808 422.9" stroke="#800080" stroke-width="5.5" fill="none"/><path d="M1806.6 388.7L1840.2 422.3M1806.6 422.3L1840.2 388.7M1823.4 388L1823.4 423" stroke="#800080" stroke-width="5.5" fill="none"/></g></g>
<g><path d="M285.3 384.3L294 383.9L308.6 383.1L323.2 382.4L337.8 381.1L352.5 378.8L367.1 376.4L381.7 374L396.3 371.3L410.9 368.4L425.5 365.6L440.1 362.9L454.8 360.6L469.4 358.4L484 356.1L498.6 354.1L513.2 352.4L527.8 351.6L542.4 350.8L557.1 350.1L571.7 350.1L586.3 351L600.9 354.2L607.7 355.6L615.5 380.3L630.1 400.8L644.7 412.9L659.4 425L674 439.6L688.6 454.4L703.2 469.9L717.8 486L732.4 500.9L747 515.6L761.7 527.9L776.3 540L790.9 549L805.5 554.6L820.1 557.7L834.7 559.1L849.3 557.1L864 554.8L878.6 549.6L893.2 544.2L907.8 538.3L922.4 532.3L937 525L951.6 518.3L966.3 513.3L980.9 508.5L995.5 504.6L1010.1 501.2L1024.7 499.7L1039.3 498.5L1053.9 498L1068.6 498.5L1083.2 499.7L1097.8 501.2L1112.4 504.6L1127 508.5L1141.6 513.3L1156.2 518.3L1170.9 525L1185.5 532.3L1200.1 538.3L1214.7 544.2L1229.3 549.6L1243.9 554.8L1258.5 557.1L1273.2 559.1L1287.8 557.7L1302.4 554.6L1317 549L1331.6 540L1346.2 527.9L1360.8 515.6L1375.5 500.9L1390.1 486L1404.7 469.9L1419.3 454.4L1433.9 439.6L1448.5 425L1463.1 412.9L1477.8 400.8L1492.4 380.3L1500.2 355.6L1507 354.2L1521.6 351L1536.2 350.1L1550.8 350.1L1565.4 350.8L1580.1 351.6L1594.7 352.4L1609.3 354.1L1623.9 356.1L1638.5 358.4L1653.1 360.6L1667.7 362.9L1682.4 365.6L1697 368.4L1711.6 371.3L1726.2 374L1740.8 376.4L1755.4 378.8L1770 381.1L1784.7 382.4L1799.3 383.1L1813.9 383.9L1822.6 384.3" stroke="#800000" stroke-width="9.2" fill="none"/>
<g stroke-linecap="butt"><circle cx="285.3" cy="384.3" r="18.8" fill="#800000"/><circle cx="294" cy="383.9" r="18.8" fill="#800000"/><circle cx="308.6" cy="383.1" r="18.8" fill="#800000"/><circle cx="323.2" cy="382.4" r="18.8" fill="#800000"/><circle cx="337.8" cy="381.1" r="18.8" fill="#800000"/><circle cx="352.5" cy="378.8" r="18.8" fill="#800000"/><circle cx="367.1" cy="376.4" r="18.8" fill="#800000"/><circle cx="381.7" cy="374" r="18.8" fill="#800000"/><circle cx="396.3" cy="371.3" r="18.8" fill="#800000"/><circle cx="410.9" cy="368.4" r="18.8" fill="#800000"/><circle cx="425.5" cy="365.6" r="18.8" fill="#800000"/><circle cx="440.1" cy="362.9" r="18.8" fill="#800000"/><circle cx="454.8" cy="360.6" r="18.8" fill="#800000"/><circle cx="469.4" cy="358.4" r="18.8" fill="#800000"/><circle cx="484" cy="356.1" r="18.8" fill="#800000"/><circle cx="498.6" cy="354.1" r="18.8" fill="#800000"/><circle cx="513.2" cy="352.4" r="18.8" fill="#800000"/><circle cx="527.8" cy="351.6" r="18.8" fill="#800000"/><circle cx="542.4" cy="350.8" r="18.8" fill="#800000"/><circle cx="557.1" cy="350.1" r="18.8" fill="#800000"/><circle cx="571.7" cy="350.1" r="18.8" fill="#800000"/><circle cx="586.3" cy="351" r="18.8" fill="#800000"/><circle cx="600.9" cy="354.2" r="18.8" fill="#800000"/><circle cx="607.7" cy="355.6" r="18.8" fill="#800000"/><circle cx="615.5" cy="380.3" r="18.8" fill="#800000"/><circle cx="630.1" cy="400.8" r="18.8" fill="#800000"/><circle cx="644.7" cy="412.9" r="18.8" fill="#800000"/><circle cx="659.4" cy="425" r="18.8" fill="#800000"/><circle cx="674" cy="439.6" r="18.8" fill="#800000"/><circle cx="688.6" cy="454.4" r="18.8" fill="#800000"/><circle cx="703.2" cy="469.9" r="18.8" fill="#800000"/><circle cx="717.8" cy="486" r="18.8" fill="#800000"/><circle cx="732.4" cy="500.9" r="18.8" fill="#800000"/><circle cx="747" cy="515.6" r="18.8" fill="#800000"/><circle cx="761.7" cy="527.9" r="18.8" fill="#800000"/><circle cx="776.3" cy="540" r="18.8" fill="#800000"/><circle cx="790.9" cy="549" r="18.8" fill="#800000"/><circle cx="805.5" cy="554.6" r="18.8" fill="#800000"/><circle cx="820.1" cy="557.7" r="18.8" fill="#800000"/><circle cx="834.7" cy="559.1" r="18.8" fill="#800000"/><circle cx="849.3" cy="557.1" r="18.8" fill="#800000"/><circle cx="864" cy="554.8" r="18.8" fill="#800000"/><circle cx="878.6" cy="549.6" r="18.8" fill="#800000"/><circle cx="893.2" cy="544.2" r="18.8" fill="#800000"/><circle cx="907.8" cy="538.3" r="18.8" fill="#800000"/><circle cx="922.4" cy="532.3" r="18.8" fill="#800000"/><circle cx="937" cy="525" r="18.8" fill="#800000"/><circle cx="951.6" cy="518.3" r="18.8" fill="#800000"/><circle cx="966.3" cy="513.3" r="18.8" fill="#800000"/><circle cx="980.9" cy="508.5" r="18.8" fill="#800000"/><circle cx="995.5" cy="504.6" r="18.8" fill="#800000"/><circle cx="1010.1" cy="501.2" r="18.8" fill="#800000"/><circle cx="1024.7" cy="499.7" r="18.8" fill="#800000"/><circle cx="1039.3" cy="498.5" r="18.8" fill="#800000"/><circle cx="1053.9" cy="498" r="18.8" fill="#800000"/><circle cx="1068.6" cy="498.5" r="18.8" fill="#800000"/><circle cx="1083.2" cy="499.7" r="18.8" fill="#800000"/><circle cx="1097.8" cy="501.2" r="18.8" fill="#800000"/><circle cx="1112.4" cy="504.6" r="18.8" fill="#800000"/><circle cx="1127" cy="508.5" r="18.8" fill="#800000"/><circle cx="1141.6" cy="513.3" r="18.8" fill="#800000"/><circle cx="1156.2" cy="518.3" r="18.8" fill="#800000"/><circle cx="1170.9" cy="525" r="18.8" fill="#800000"/><circle cx="1185.5" cy="532.3" r="18.8" fill="#800000"/><circle cx="1200.1" cy="538.3" r="18.8" fill="#800000"/><circle cx="1214.7" cy="544.2" r="18.8" fill="#800000"/><circle cx="1229.3" cy="549.6" r="18.8" fill="#800000"/><circle cx="1243.9" cy="554.8" r="18.8" fill="#800000"/><circle cx="1258.5" cy="557.1" r="18.8" fill="#800000"/><circle cx="1273.2" cy="559.1" r="18.8" fill="#800000"/><circle cx="1287.8" cy="557.7" r="18.8" fill="#800000"/><circle cx="1302.4" cy="554.6" r="18.8" fill="#800000"/><circle cx="1317" cy="549" r="18.8" fill="#800000"/><circle cx="1331.6" cy="540" r="18.8" fill="#800000"/><circle cx="1346.2" cy="527.9" r="18.8" fill="#800000"/><circle cx="1360.8" cy="515.6" r="18.8" fill="#800000"/><circle cx="1375.5" cy="500.9" r="18.8" fill="#800000"/><circle cx="1390.1" cy="486" r="18.8" fill="#800000"/><circle cx="1404.7" cy="469.9" r="18.8" fill="#800000"/><circle cx="1419.3" cy="454.4" r="18.8" fill="#800000"/><circle cx="1433.9" cy="439.6" r="18.8" fill="#800000"/><circle cx="1448.5" cy="425" r="18.8" fill="#800000"/><circle cx="1463.1" cy="412.9" r="18.8" fill="#800000"/><circle cx="1477.8" cy="400.8" r="18.8" fill="#800000"/><circle cx="1492.4" cy="380.3" r="18.8" fill="#800000"/><circle cx="1500.2" cy="355.6" r="18.8" fill="#800000"/><circle cx="1507" cy="354.2" r="18.8" fill="#800000"/><circle cx="1521.6" cy="351" r="18.8" fill="#800000"/><circle cx="1536.2" cy="350.1" r="18.8" fill="#800000"/><circle cx="1550.8" cy="350.1" r="18.8" fill="#800000"/><circle cx="1565.4" cy="350.8" r="18.8" fill="#800000"/><circle cx="1580.1" cy="351.6" r="18.8" fill="#800000"/><circle cx="1594.7" cy="352.4" r="18.8" fill="#800000"/><circle cx="1609.3" cy="354.1" r="18.8" fill="#800000"/><circle cx="1623.9" cy="356.1" r="18.8" fill="#800000"/><circle cx="1638.5" cy="358.4" r="18.8" fill="#800000"/><circle cx="1653.1" cy="360.6" r="18.8" fill="#800000"/><circle cx="1667.7" cy="362.9" r="18.8" fill="#800000"/><circle cx="1682.4" cy="365.6" r="18.8" fill="#800000"/><circle cx="1697" cy="368.4" r="18.8" fill="#800000"/><circle cx="1711.6" cy="371.3" r="18.8" fill="#800000"/><circle cx="1726.2" cy="374" r="18.8" fill="#800000"/><circle cx="1740.8" cy="376.4" r="18.8" fill="#800000"/><circle cx="1755.4" cy="378.8" r="18.8" fill="#800000"/><circle cx="1770" cy="381.1" r="18.8" fill="#800000"/><circle cx="1784.7" cy="382.4" r="18.8" fill="#800000"/><circle cx="1799.3" cy="383.1" r="18.8" fill="#800000"/><circle cx="1813.9" cy="383.9" r="18.8" fill="#800000"/><circle cx="1822.6" cy="384.3" r="18.8" fill="#800000"/></g></g>
<g><path d="M287.6 400.5L294 400.3L308.6 399.9L323.2 399.5L337.8 399.1L352.5 398.7L367.1 398.3L381.7 397.9L396.3 397.4L410.9 397L425.5 396.6L440.1 396.2L454.8 395.8L469.4 395.4L484 395L498.6 394.6L513.2 394.3L527.8 394.3L542.4 394.4L557.1 394.4L571.7 394.8L586.3 395.6L600.9 401.3L615.5 410.3L630.1 421.8L644.7 429.6L659.4 434.7L674 439.8L688.6 448.5L703.2 457.2L717.8 466L732.4 472.2L747 478.2L761.7 485L776.3 491.8L790.9 496.5L805.5 499.9L820.1 502.4L834.7 504.8L849.3 505.5L864 504.5L878.6 503L893.2 501.2L907.8 498.5L922.4 495.5L937 492.1L951.6 488.9L966.3 486.6L980.9 484.5L995.5 482.7L1010.1 481.3L1024.7 480.8L1039.3 480.4L1053.9 480.3L1068.6 480.4L1083.2 480.8L1097.8 481.3L1112.4 482.7L1127 484.5L1141.6 486.6L1156.2 488.9L1170.9 492.1L1185.5 495.5L1200.1 498.5L1214.7 501.2L1229.3 503L1243.9 504.5L1258.5 505.5L1273.2 504.8L1287.8 502.4L1302.4 499.9L1317 496.5L1331.6 491.8L1346.2 485L1360.8 478.2L1375.5 472.2L1390.1 466L1404.7 457.2L1419.3 448.5L1433.9 439.8L1448.5 434.7L1463.1 429.6L1477.8 421.8L1492.4 410.3L1507 401.3L1521.6 395.6L1536.2 394.8L1550.8 394.4L1565.4 394.4L1580.1 394.3L1594.7 394.3L1609.3 394.6L1623.9 395L1638.5 395.4L1653.1 395.8L1667.7 396.2L1682.4 396.6L1697 397L1711.6 397.4L1726.2 397.9L1740.8 398.3L1755.4 398.7L1770 399.1L1784.7 399.5L1799.3 399.9L1813.9 400.3L1820.3 400.5" stroke="#008080" stroke-width="9.2" fill="none"/>
<g stroke-linecap="butt"><path d="M270.1 400.5L305.1 400.5M287.6 383L287.6 418" stroke="#008080" stroke-width="4.8" fill="none"/><path d="M276.5 400.3L311.5 400.3M294 382.8L294 417.8" stroke="#008080" stroke-width="4.8" fill="none"/><path d="M291.1 399.9L326.1 399.9M308.6 382.4L308.6 417.4" stroke="#008080" stroke-width="4.8" fill="none"/><path d="M305.7 399.5L340.7 399.5M323.2 382L323.2 417" stroke="#008080" stroke-width="4.8" fill="none"/><path d="M320.3 399.1L355.3 399.1M337.8 381.6L337.8 416.6" stroke="#008080" stroke-width="4.8" fill="none"/><path d="M335 398.7L370 398.7M352.5 381.2L352.5 416.2" stroke="#008080" stroke-width="4.8" fill="none"/><path d="M349.6 398.3L384.6 398.3M367.1 380.8L367.1 415.8" stroke="#008080" stroke-width="4.8" fill="none"/><path d="M364.2 397.9L399.2 397.9M381.7 380.4L381.7 415.4" stroke="#008080" stroke-width="4.8" fill="none"/><path d="M378.8 397.4L413.8 397.4M396.3 379.9L396.3 414.9" stroke="#008080" stroke-width="4.8" fill="none"/><path d="M393.4 397L428.4 397M410.9 379.5L410.9 414.5" stroke="#008080" stroke-width="4.8" fill="none"/><path d="M408 396.6L443 396.6M425.5 379.1L425.5 414.1" stroke="#008080" stroke-width="4.8" fill="none"/><path d="M422.6 396.2L457.6 396.2M440.1 378.7L440.1 413.7" stroke="#008080" stroke-width="4.8" fill="none"/><path d="M437.3 395.8L472.3 395.8M454.8 378.3L454.8 413.3" stroke="#008080" stroke-width="4.8" fill="none"/><path d="M451.9 395.4L486.9 395.4M469.4 377.9L469.4 412.9" stroke="#008080" stroke-width="4.8" fill="none"/><path d="M466.5 395L501.5 395M484 377.5L484 412.5" stroke="#008080" stroke-width="4.8" fill="none"/><path d="M481.1 394.6L516.1 394.6M498.6 377.1L498.6 412.1" stroke="#008080" stroke-width="4.8" fill="none"/><path d="M495.7 394.3L530.7 394.3M513.2 376.8L513.2 411.8" stroke="#008080" stroke-width="4.8" fill="none"/><path d="M510.3 394.3L545.3 394.3M527.8 376.8L527.8 411.8" stroke="#008080" stroke-width="4.8" fill="none"/><path d="M524.9 394.4L559.9 394.4M542.4 376.9L542.4 411.9" stroke="#008080" stroke-width="4.8" fill="none"/><path d="M539.6 394.4L574.6 394.4M557.1 376.9L557.1 411.9" stroke="#008080" stroke-width="4.8" fill="none"/><path d="M554.2 394.8L589.2 394.8M571.7 377.3L571.7 412.3" stroke="#008080" stroke-width="4.8" fill="none"/><path d="M568.8 395.6L603.8 395.6M586.3 378.1L586.3 413.1" stroke="#008080" stroke-width="4.8" fill="none"/><path d="M583.4 401.3L618.4 401.3M600.9 383.8L600.9 418.8" stroke="#008080" stroke-width="4.8" fill="none"/><path d="M598 410.3L633 410.3M615.5 392.8L615.5 427.8" stroke="#008080" stroke-width="4.8" fill="none"/><path d="M612.6 421.8L647.6 421.8M630.1 404.3L630.1 439.3" stroke="#008080" stroke-width="4.8" fill="none"/><path d="M627.2 429.6L662.2 429.6M644.7 412.1L644.7 447.1" stroke="#008080" stroke-width="4.8" fill="none"/><path d="M641.9 434.7L676.9 434.7M659.4 417.2L659.4 452.2" stroke="#008080" stroke-width="4.8" fill="none"/><path d="M656.5 439.8L691.5 439.8M674 422.3L674 457.3" stroke="#008080" stroke-width="4.8" fill="none"/><path d="M671.1 448.5L706.1 448.5M688.6 431L688.6 466" stroke="#008080" stroke-width="4.8" fill="none"/><path d="M685.7 457.2L720.7 457.2M703.2 439.7L703.2 474.7" stroke="#008080" stroke-width="4.8" fill="none"/><path d="M700.3 466L735.3 466M717.8 448.5L717.8 483.5" stroke="#008080" stroke-width="4.8" fill="none"/><path d="M714.9 472.2L749.9 472.2M732.4 454.7L732.4 489.7" stroke="#008080" stroke-width="4.8" fill="none"/><path d="M729.5 478.2L764.5 478.2M747 460.7L747 495.7" stroke="#008080" stroke-width="4.8" fill="none"/><path d="M744.2 485L779.2 485M761.7 467.5L761.7 502.5" stroke="#008080" stroke-width="4.8" fill="none"/><path d="M758.8 491.8L793.8 491.8M776.3 474.3L776.3 509.3" stroke="#008080" stroke-width="4.8" fill="none"/><path d="M773.4 496.5L808.4 496.5M790.9 479L790.9 514" stroke="#008080" stroke-width="4.8" fill="none"/><path d="M788 499.9L823 499.9M805.5 482.4L805.5 517.4" stroke="#008080" stroke-width="4.8" fill="none"/><path d="M802.6 502.4L837.6 502.4M820.1 484.9L820.1 519.9" stroke="#008080" stroke-width="4.8" fill="none"/><path d="M817.2 504.8L852.2 504.8M834.7 487.3L834.7 522.3" stroke="#008080" stroke-width="4.8" fill="none"/><path d="M831.8 505.5L866.8 505.5M849.3 488L849.3 523" stroke="#008080" stroke-width="4.8" fill="none"/><path d="M846.5 504.5L881.5 504.5M864 487L864 522" stroke="#008080" stroke-width="4.8" fill="none"/><path d="M861.1 503L896.1 503M878.6 485.5L878.6 520.5" stroke="#008080" stroke-width="4.8" fill="none"/><path d="M875.7 501.2L910.7 501.2M893.2 483.7L893.2 518.7" stroke="#008080" stroke-width="4.8" fill="none"/><path d="M890.3 498.5L925.3 498.5M907.8 481L907.8 516" stroke="#008080" stroke-width="4.8" fill="none"/><path d="M904.9 495.5L939.9 495.5M922.4 478L922.4 513" stroke="#008080" stroke-width="4.8" fill="none"/><path d="M919.5 492.1L954.5 492.1M937 474.6L937 509.6" stroke="#008080" stroke-width="4.8" fill="none"/><path d="M934.1 488.9L969.1 488.9M951.6 471.4L951.6 506.4" stroke="#008080" stroke-width="4.8" fill="none"/><path d="M948.8 486.6L983.8 486.6M966.3 469.1L966.3 504.1" stroke="#008080" stroke-width="4.8" fill="none"/><path d="M963.4 484.5L998.4 484.5M980.9 467L980.9 502" stroke="#008080" stroke-width="4.8" fill="none"/><path d="M978 482.7L1013 482.7M995.5 465.2L995.5 500.2" stroke="#008080" stroke-width="4.8" fill="none"/><path d="M992.6 481.3L1027.6 481.3M1010.1 463.8L1010.1 498.8" stroke="#008080" stroke-width="4.8" fill="none"/><path d="M1007.2 480.8L1042.2 480.8M1024.7 463.3L1024.7 498.3" stroke="#008080" stroke-width="4.8" fill="none"/><path d="M1021.8 480.4L1056.8 480.4M1039.3 462.9L1039.3 497.9" stroke="#008080" stroke-width="4.8" fill="none"/><path d="M1036.4 480.3L1071.4 480.3M1053.9 462.8L1053.9 497.8" stroke="#008080" stroke-width="4.8" fill="none"/><path d="M1051.1 480.4L1086.1 480.4M1068.6 462.9L1068.6 497.9" stroke="#008080" stroke-width="4.8" fill="none"/><path d="M1065.7 480.8L1100.7 480.8M1083.2 463.3L1083.2 498.3" stroke="#008080" stroke-width="4.8" fill="none"/><path d="M1080.3 481.3L1115.3 481.3M1097.8 463.8L1097.8 498.8" stroke="#008080" stroke-width="4.8" fill="none"/><path d="M1094.9 482.7L1129.9 482.7M1112.4 465.2L1112.4 500.2" stroke="#008080" stroke-width="4.8" fill="none"/><path d="M1109.5 484.5L1144.5 484.5M1127 467L1127 502" stroke="#008080" stroke-width="4.8" fill="none"/><path d="M1124.1 486.6L1159.1 486.6M1141.6 469.1L1141.6 504.1" stroke="#008080" stroke-width="4.8" fill="none"/><path d="M1138.7 488.9L1173.7 488.9M1156.2 471.4L1156.2 506.4" stroke="#008080" stroke-width="4.8" fill="none"/><path d="M1153.4 492.1L1188.4 492.1M1170.9 474.6L1170.9 509.6" stroke="#008080" stroke-width="4.8" fill="none"/><path d="M1168 495.5L1203 495.5M1185.5 478L1185.5 513" stroke="#008080" stroke-width="4.8" fill="none"/><path d="M1182.6 498.5L1217.6 498.5M1200.1 481L1200.1 516" stroke="#008080" stroke-width="4.8" fill="none"/><path d="M1197.2 501.2L1232.2 501.2M1214.7 483.7L1214.7 518.7" stroke="#008080" stroke-width="4.8" fill="none"/><path d="M1211.8 503L1246.8 503M1229.3 485.5L1229.3 520.5" stroke="#008080" stroke-width="4.8" fill="none"/><path d="M1226.4 504.5L1261.4 504.5M1243.9 487L1243.9 522" stroke="#008080" stroke-width="4.8" fill="none"/><path d="M1241 505.5L1276 505.5M1258.5 488L1258.5 523" stroke="#008080" stroke-width="4.8" fill="none"/><path d="M1255.7 504.8L1290.7 504.8M1273.2 487.3L1273.2 522.3" stroke="#008080" stroke-width="4.8" fill="none"/><path d="M1270.3 502.4L1305.3 502.4M1287.8 484.9L1287.8 519.9" stroke="#008080" stroke-width="4.8" fill="none"/><path d="M1284.9 499.9L1319.9 499.9M1302.4 482.4L1302.4 517.4" stroke="#008080" stroke-width="4.8" fill="none"/><path d="M1299.5 496.5L1334.5 496.5M1317 479L1317 514" stroke="#008080" stroke-width="4.8" fill="none"/><path d="M1314.1 491.8L1349.1 491.8M1331.6 474.3L1331.6 509.3" stroke="#008080" stroke-width="4.8" fill="none"/><path d="M1328.7 485L1363.7 485M1346.2 467.5L1346.2 502.5" stroke="#008080" stroke-width="4.8" fill="none"/><path d="M1343.3 478.2L1378.3 478.2M1360.8 460.7L1360.8 495.7" stroke="#008080" stroke-width="4.8" fill="none"/><path d="M1358 472.2L1393 472.2M1375.5 454.7L1375.5 489.7" stroke="#008080" stroke-width="4.8" fill="none"/><path d="M1372.6 466L1407.6 466M1390.1 448.5L1390.1 483.5" stroke="#008080" stroke-width="4.8" fill="none"/><path d="M1387.2 457.2L1422.2 457.2M1404.7 439.7L1404.7 474.7" stroke="#008080" stroke-width="4.8" fill="none"/><path d="M1401.8 448.5L1436.8 448.5M1419.3 431L1419.3 466" stroke="#008080" stroke-width="4.8" fill="none"/><path d="M1416.4 439.8L1451.4 439.8M1433.9 422.3L1433.9 457.3" stroke="#008080" stroke-width="4.8" fill="none"/><path d="M1431 434.7L1466 434.7M1448.5 417.2L1448.5 452.2" stroke="#008080" stroke-width="4.8" fill="none"/><path d="M1445.6 429.6L1480.6 429.6M1463.1 412.1L1463.1 447.1" stroke="#008080" stroke-width="4.8" fill="none"/><path d="M1460.3 421.8L1495.3 421.8M1477.8 404.3L1477.8 439.3" stroke="#008080" stroke-width="4.8" fill="none"/><path d="M1474.9 410.3L1509.9 410.3M1492.4 392.8L1492.4 427.8" stroke="#008080" stroke-width="4.8" fill="none"/><path d="M1489.5 401.3L1524.5 401.3M1507 383.8L1507 418.8" stroke="#008080" stroke-width="4.8" fill="none"/><path d="M1504.1 395.6L1539.1 395.6M1521.6 378.1L1521.6 413.1" stroke="#008080" stroke-width="4.8" fill="none"/><path d="M1518.7 394.8L1553.7 394.8M1536.2 377.3L1536.2 412.3" stroke="#008080" stroke-width="4.8" fill="none"/><path d="M1533.3 394.4L1568.3 394.4M1550.8 376.9L1550.8 411.9" stroke="#008080" stroke-width="4.8" fill="none"/><path d="M1547.9 394.4L1582.9 394.4M1565.4 376.9L1565.4 411.9" stroke="#008080" stroke-width="4.8" fill="none"/><path d="M1562.6 394.3L1597.6 394.3M1580.1 376.8L1580.1 411.8" stroke="#008080" stroke-width="4.8" fill="none"/><path d="M1577.2 394.3L1612.2 394.3M1594.7 376.8L1594.7 411.8" stroke="#008080" stroke-width="4.8" fill="none"/><path d="M1591.8 394.6L1626.8 394.6M1609.3 377.1L1609.3 412.1" stroke="#008080" stroke-width="4.8" fill="none"/><path d="M1606.4 395L1641.4 395M1623.9 377.5L1623.9 412.5" stroke="#008080" stroke-width="4.8" fill="none"/><path d="M1621 395.4L1656 395.4M1638.5 377.9L1638.5 412.9" stroke="#008080" stroke-width="4.8" fill="none"/><path d="M1635.6 395.8L1670.6 395.8M1653.1 378.3L1653.1 413.3" stroke="#008080" stroke-width="4.8" fill="none"/><path d="M1650.2 396.2L1685.2 396.2M1667.7 378.7L1667.7 413.7" stroke="#008080" stroke-width="4.8" fill="none"/><path d="M1664.9 396.6L1699.9 396.6M1682.4 379.1L1682.4 414.1" stroke="#008080" stroke-width="4.8" fill="none"/><path d="M1679.5 397L1714.5 397M1697 379.5L1697 414.5" stroke="#008080" stroke-width="4.8" fill="none"/><path d="M1694.1 397.4L1729.1 397.4M1711.6 379.9L1711.6 414.9" stroke="#008080" stroke-width="4.8" fill="none"/><path d="M1708.7 397.9L1743.7 397.9M1726.2 380.4L1726.2 415.4" stroke="#008080" stroke-width="4.8" fill="none"/><path d="M1723.3 398.3L1758.3 398.3M1740.8 380.8L1740.8 415.8" stroke="#008080" stroke-width="4.8" fill="none"/><path d="M1737.9 398.7L1772.9 398.7M1755.4 381.2L1755.4 416.2" stroke="#008080" stroke-width="4.8" fill="none"/><path d="M1752.5 399.1L1787.5 399.1M1770 381.6L1770 416.6" stroke="#008080" stroke-width="4.8" fill="none"/><path d="M1767.2 399.5L1802.2 399.5M1784.7 382L1784.7 417" stroke="#008080" stroke-width="4.8" fill="none"/><path d="M1781.8 399.9L1816.8 399.9M1799.3 382.4L1799.3 417.4" stroke="#008080" stroke-width="4.8" fill="none"/><path d="M1796.4 400.3L1831.4 400.3M1813.9 382.8L1813.9 417.8" stroke="#008080" stroke-width="4.8" fill="none"/><path d="M1802.8 400.5L1837.8 400.5M1820.3 383L1820.3 418" stroke="#008080" stroke-width="4.8" fill="none"/></g></g>
</g>
<rect x="1261.5" y="723" width="544.5" height="534" fill="#fff" stroke="#000" stroke-width="3"/>
<g stroke-linecap="round">
<path d="M1297 761.6H1458" stroke="#000080" stroke-width="9.2" fill="none"/>
<g stroke-linecap="butt"><path d="M1377.3 742.8L1396.1 761.6L1377.3 780.4L1358.5 761.6Z" fill="#000080"/></g>
<text class="l" x="1473" y="782.3">Soil</text>
<path d="M1297 837.6H1458" stroke="#ff00ff" stroke-width="9.2" fill="none"/>
<g stroke-linecap="butt"><rect x="1358.2" y="818.5" width="38.2" height="38.2" fill="#ff00ff"/></g>
<text class="l" x="1473" y="858.3">AE = 10 %</text>
<path d="M1297 913.9H1458" stroke="#ffff00" stroke-width="9.2" fill="none"/>
<g stroke-linecap="butt"><path d="M1377.3 895.1L1396.1 932.7L1358.5 932.7Z" fill="#ffff00"/></g>
<text class="l" x="1473" y="934.6">AE = 20 %</text>
<path d="M1297 990H1458" stroke="#00ffff" stroke-width="9.2" fill="none"/>
<g stroke-linecap="butt"><path d="M1360.5 973.2L1394.1 1006.8M1360.5 1006.8L1394.1 973.2" stroke="#00ffff" stroke-width="5.5" fill="none"/></g>
<text class="l" x="1473" y="1010.7">AE = 30 %</text>
<path d="M1297 1066.2H1458" stroke="#800080" stroke-width="9.2" fill="none"/>
<g stroke-linecap="butt"><path d="M1360.5 1049.4L1394.1 1083M1360.5 1083L1394.1 1049.4M1377.3 1048.7L1377.3 1083.7" stroke="#800080" stroke-width="5.5" fill="none"/></g>
<text class="l" x="1473" y="1086.9">AE = 40 %</text>
<path d="M1297 1142.4H1458" stroke="#800000" stroke-width="9.2" fill="none"/>
<g stroke-linecap="butt"><circle cx="1377.3" cy="1142.4" r="18.8" fill="#800000"/></g>
<text class="l" x="1473" y="1163.1">AE = 50 %</text>
<path d="M1297 1219H1458" stroke="#008080" stroke-width="9.2" fill="none"/>
<g stroke-linecap="butt"><path d="M1359.8 1219L1394.8 1219M1377.3 1201.5L1377.3 1236.5" stroke="#008080" stroke-width="4.8" fill="none"/></g>
<text class="l" x="1473" y="1239.7">AE = 60 %</text>
</g>
<text class="t" x="285" y="1393.5" text-anchor="middle">0</text>
<text class="t" x="541.5" y="1393.5" text-anchor="middle">10</text>
<text class="t" x="798" y="1393.5" text-anchor="middle">20</text>
<text class="t" x="1054.4" y="1393.5" text-anchor="middle">30</text>
<text class="t" x="1310.9" y="1393.5" text-anchor="middle">40</text>
<text class="t" x="1567.4" y="1393.5" text-anchor="middle">50</text>
<text class="t" x="1823.9" y="1393.5" text-anchor="middle">60</text>
<text class="t" x="221" y="83.2" text-anchor="end">0.3</text>
<text class="t" x="221" y="205.7" text-anchor="end">0.2</text>
<text class="t" x="221" y="328.2" text-anchor="end">0.1</text>
<text class="t" x="221" y="450.7" text-anchor="end">0</text>
<text class="t" y="573.2"><tspan x="80.8" textLength="47.4" lengthAdjust="spacingAndGlyphs">−</tspan><tspan x="221" text-anchor="end">0.1</tspan></text>
<text class="t" y="695.7"><tspan x="80.8" textLength="47.4" lengthAdjust="spacingAndGlyphs">−</tspan><tspan x="221" text-anchor="end">0.2</tspan></text>
<text class="t" y="818.2"><tspan x="80.8" textLength="47.4" lengthAdjust="spacingAndGlyphs">−</tspan><tspan x="221" text-anchor="end">0.3</tspan></text>
<text class="t" y="940.7"><tspan x="80.8" textLength="47.4" lengthAdjust="spacingAndGlyphs">−</tspan><tspan x="221" text-anchor="end">0.4</tspan></text>
<text class="t" y="1063.2"><tspan x="80.8" textLength="47.4" lengthAdjust="spacingAndGlyphs">−</tspan><tspan x="221" text-anchor="end">0.5</tspan></text>
<text class="t" y="1185.7"><tspan x="80.8" textLength="47.4" lengthAdjust="spacingAndGlyphs">−</tspan><tspan x="221" text-anchor="end">0.6</tspan></text>
<text class="t" y="1308.3"><tspan x="80.8" textLength="47.4" lengthAdjust="spacingAndGlyphs">−</tspan><tspan x="221" text-anchor="end">0.7</tspan></text>
<text class="b" style="font-size:74.3px" x="1070" y="1457" text-anchor="middle">Distance, m</text>
<text class="b" style="font-size:75.5px" transform="translate(79 715.2) rotate(-90)" text-anchor="middle">Vertical Displacement, m</text>
</svg></body></html>
